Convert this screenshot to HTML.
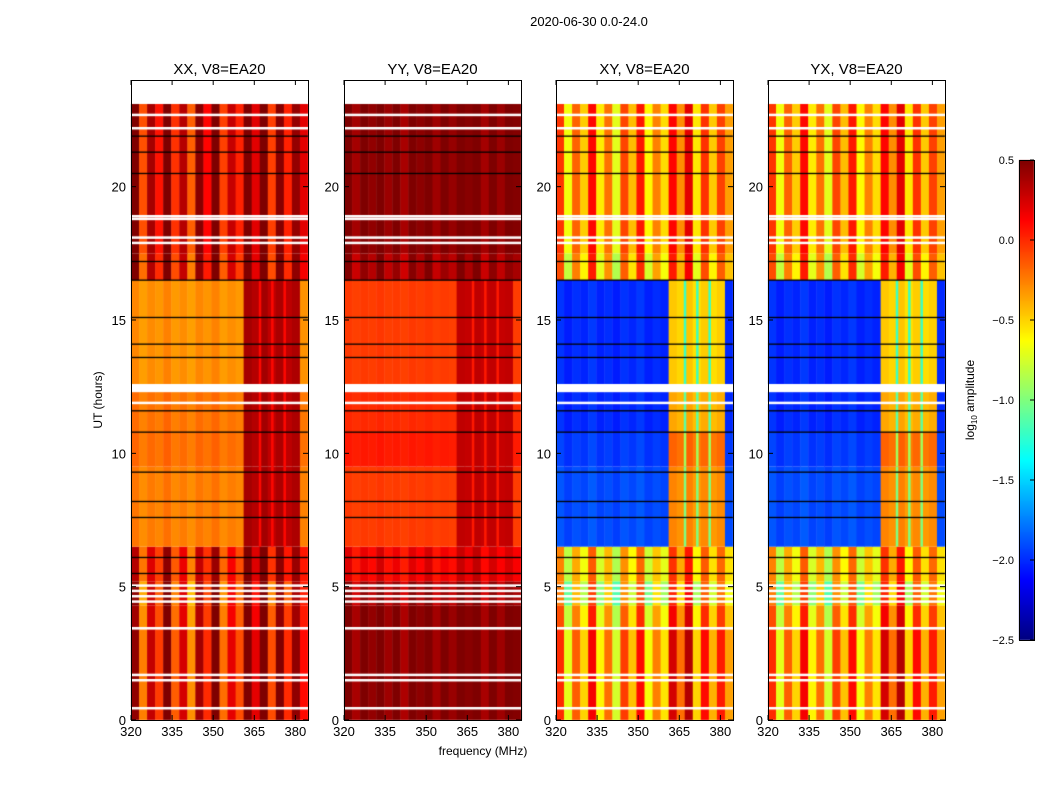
<!DOCTYPE html>
<html><head><meta charset="utf-8"><style>
body{margin:0;background:#fff;width:1050px;height:800px;overflow:hidden;position:relative;font-family:"Liberation Sans",sans-serif}
canvas{position:absolute;left:0;top:0}
svg{position:absolute;left:0;top:0}
</style></head><body>
<canvas id="cv" width="1050" height="800"></canvas>
<svg id="sv" width="1050" height="800"></svg>
<script>
// ---- data ----
const panelNames = ["XX, V8=EA20","YY, V8=EA20","XY, V8=EA20","YX, V8=EA20"];
const bandStart = [0, 3.4, 4.3, 5.2, 6.5, 9.5, 10.8, 12.6, 16.5, 17.5];
const bandEnd   = [3.4, 4.3, 5.2, 6.5, 9.5, 10.8, 12.3, 16.5, 17.5, 23.1];
const levXX = [0.15, 0.1, 0.1, 0.1, -0.25, -0.2, -0.22, -0.3, 0.2, 0.25];
const levYY = [0.5, 0.5, 0.4, 0.15, -0.05, 0.05, 0.0, -0.05, 0.4, 0.5];
const levXY = [-0.3, -0.4, -0.6, -0.5, -1.9, -1.95, -2.0, -2.0, -0.4, -0.3];
const levYX = [-0.3, -0.4, -0.6, -0.5, -1.9, -1.95, -2.0, -2.0, -0.4, -0.3];
const hotXX = [0.3, 0.25, 0.2, 0.3, 0.35, 0.35, 0.35, 0.35, 0.3, 0.3];
const hotYY = [0.5, 0.5, 0.4, 0.2, 0.3, 0.3, 0.3, 0.3, 0.4, 0.5];
const hotXY = [-0.1, -0.2, -0.4, -0.3, -0.3, -0.2, -0.4, -0.5, -0.3, -0.2];
const hotYX = [-0.1, -0.2, -0.4, -0.3, -0.3, -0.2, -0.4, -0.5, -0.3, -0.2];
const spread = [0.5, 0.5, 0.6, 0.4, 0.05, 0.05, 0.05, 0.05, 0.5, 0.45];
const chanRipple = [0.6,-0.8,0.3,-0.4,0.9,-0.6,0.2,-0.9,0.5,-0.3,0.8,-0.7,0.1,-0.5,0.7,-0.2,0.9,-0.8,0.4,-0.6,0.3,-0.1];
const hotLo = 362, hotHi = 381;
const hotDividers = [367, 371.5, 376];
const whiteLines = [0.45,1.5,1.7,3.45,4.45,4.65,4.85,5.05,11.9,12.35,12.5,17.9,18.1,18.8,18.9,22.2,22.7];
const blackLines = [5.5,6.1,7.6,8.2,9.3,10.8,11.6,13.6,14.1,15.1,16.5,17.2,20.5,21.3,21.9];
const yTicks = [0,5,10,15,20];
const xTicks = [320,335,350,365,380];
const cbTicks = [0.5,0.0,-0.5,-1.0,-1.5,-2.0,-2.5];
// ---- geometry ----
const panelLeft = [131,344,556,768], panelW = 177, plotTop = 80, plotBottom = 720;
const fx = (f,p) => panelLeft[p] + (f-320)*panelW/(384.6-320);
const ty = t => plotBottom - t*(plotBottom-plotTop)/24;
function jet(v){
  let x = (v+2.5)/3; x=Math.max(0,Math.min(1,x));
  const r=Math.max(0,Math.min(1,1.5-Math.abs(4*x-3)));
  const g=Math.max(0,Math.min(1,1.5-Math.abs(4*x-2)));
  const b=Math.max(0,Math.min(1,1.5-Math.abs(4*x-1)));
  return `rgb(${r*255|0},${g*255|0},${b*255|0})`;
}
const cv=document.getElementById('cv'), c=cv.getContext('2d');
const levs=[levXX,levYY,levXY,levYX], hots=[hotXX,hotYY,hotXY,hotYX];
for(let p=0;p<4;p++){
  for(let i=0;i<bandStart.length;i++){
    const y0=ty(bandEnd[i]), y1=ty(bandStart[i]);
    const sp = p===1 ? spread[i]*0.3 : spread[i];
    for(let k=0;k<chanRipple.length;k++){
      const f0=320+k*(384.6-320)/chanRipple.length, f1=f0+(384.6-320)/chanRipple.length;
      const fm=(f0+f1)/2;
      let v = (fm>=hotLo && fm<hotHi) ? hots[p][i] : levs[p][i];
      v += sp*chanRipple[k];
      c.fillStyle=jet(v);
      c.fillRect(fx(f0,p),y0,fx(f1,p)-fx(f0,p)+0.5,y1-y0);
    }
    if(bandStart[i]>=6.5 && bandEnd[i]<=16.5){
      for(const d of hotDividers){
        c.fillStyle=jet(hots[p][i]-(p<2?0.25:0.7));
        c.fillRect(fx(d,p)-1,y0,2.5,y1-y0);
      }
    }
  }
  c.fillStyle='#fff';
  for(const t of whiteLines) c.fillRect(panelLeft[p],ty(t)-1,panelW,2.5);
  c.fillStyle='#000';
  for(const t of blackLines) c.fillRect(panelLeft[p],ty(t)-0.5,panelW,1.3);
  c.fillStyle='#fff';
  c.fillRect(panelLeft[p],plotTop,panelW,ty(23.1)-plotTop);
  c.fillRect(panelLeft[p],ty(12.6),panelW,ty(12.3)-ty(12.6));
}
const cbX=1019,cbW=15,cbT=160,cbB=640;
for(let y=cbT;y<cbB;y++){ c.fillStyle=jet(0.5-3*(y-cbT)/(cbB-cbT)); c.fillRect(cbX,y,cbW,1); }
// ---- svg overlay ----
const sv=document.getElementById('sv'), NS='http://www.w3.org/2000/svg';
function el(tag,attrs,txt){const e=document.createElementNS(NS,tag);for(const k in attrs)e.setAttribute(k,attrs[k]);if(txt!==undefined)e.textContent=txt;sv.appendChild(e);return e;}
let tx=el('text',{x:589,y:26,'text-anchor':'middle','font-size':13,'font-family':'Liberation Sans'},'2020-06-30 0.0-24.0');


for(let p=0;p<4;p++){
  const r=el('rect',{x:panelLeft[p]+0.5,y:plotTop+0.5,width:panelW,height:plotBottom-plotTop,fill:'none',stroke:'#000','stroke-width':1});
  
  
  const tt=el('text',{x:panelLeft[p]+panelW/2,y:74,'text-anchor':'middle','font-size':15,'font-family':'Liberation Sans'},panelNames[p]);
  
  
  for(const v of yTicks){
    const y=ty(v);
    el('line',{x1:panelLeft[p],x2:panelLeft[p]+5,y1:y,y2:y,stroke:'#000'});
    el('line',{x1:panelLeft[p]+panelW,x2:panelLeft[p]+panelW-5,y1:y,y2:y,stroke:'#000'});
    const l=el('text',{x:panelLeft[p]-5,y:y+5,'text-anchor':'end','font-size':13,'font-family':'Liberation Sans'},String(v));
    
    
  }
  for(const f of xTicks){
    const x=fx(f,p);
    el('line',{x1:x,x2:x,y1:plotBottom,y2:plotBottom-5,stroke:'#000'});
    el('line',{x1:x,x2:x,y1:plotTop,y2:plotTop+5,stroke:'#000'});
    const l=el('text',{x:x,y:736,'text-anchor':'middle','font-size':13,'font-family':'Liberation Sans'},String(f));
    
    
  }
}
tx=el('text',{x:483,y:755,'text-anchor':'middle','font-size':12,'font-family':'Liberation Sans'},'frequency (MHz)');


tx=el('text',{x:0,y:0,'text-anchor':'middle','font-size':12,'font-family':'Liberation Sans',transform:'translate(102,400) rotate(-90)'},'UT (hours)');


const cbr=el('rect',{x:cbX+0.5,y:cbT+0.5,width:cbW,height:cbB-cbT,fill:'none',stroke:'#000'});


for(const v of cbTicks){
  const y=cbT+(0.5-v)/3*(cbB-cbT);
  el('line',{x1:cbX+cbW,x2:cbX+cbW-4,y1:y,y2:y,stroke:'#000'});
  const l=el('text',{x:1014,y:y+4,'text-anchor':'end','font-size':11,'font-family':'Liberation Sans'},(v<0?'\u2212':'')+Math.abs(v).toFixed(1));
  
  
}
tx=el('text',{x:0,y:0,'text-anchor':'middle','font-size':12,'font-family':'Liberation Sans',transform:'translate(974,400) rotate(-90)'});
tx.innerHTML='log<tspan font-size="8" dy="3">10</tspan><tspan dy="-3"> amplitude</tspan>';


</script>
</body></html>
